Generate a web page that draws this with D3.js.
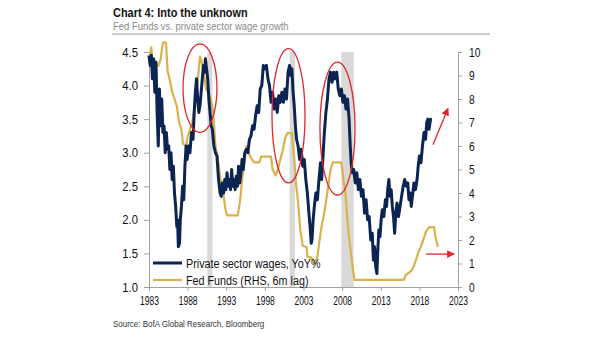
<!DOCTYPE html>
<html>
<head>
<meta charset="utf-8">
<script src="https://cdn.jsdelivr.net/npm/d3@7"></script>
<style>
    html, body { margin: 0; padding: 0; background: #fff; }
    svg { display: block; font-family: "Liberation Sans", Arial, sans-serif; }
</style>
</head>
<body>
<svg id="chart" width="605" height="341"></svg>
<script>
// tick labels
let yearTicks = [1983, 1988, 1993, 1998, 2003, 2008, 2013, 2018, 2023];
let leftTicks = [1.0, 1.5, 2.0, 2.5, 3.0, 3.5, 4.0, 4.5];
let rightTicks = [0, 1, 2, 3, 4, 5, 6, 7, 8, 9, 10];

// Private sector wages, YoY% (left axis) - [year, value]
let wages = [
    [1983.0, 4.45], [1983.15, 4.3], [1983.3, 4.45], [1983.45, 4.1], [1983.6, 4.4], [1983.75, 3.9],
    [1983.9, 4.35], [1984.05, 3.6], [1984.2, 3.1], [1984.35, 3.95], [1984.5, 3.4], [1984.65, 3.8],
    [1984.8, 3.3], [1984.95, 3.4], [1985.1, 3.0], [1985.25, 3.3], [1985.4, 3.05], [1985.55, 3.1],
    [1985.7, 2.75], [1985.85, 3.0], [1986.0, 2.6], [1986.15, 2.8], [1986.3, 2.4], [1986.45, 2.2],
    [1986.6, 1.9], [1986.7, 2.0], [1986.8, 1.6], [1986.95, 1.65], [1987.05, 2.0], [1987.2, 2.2],
    [1987.35, 2.5], [1987.5, 2.3], [1987.65, 2.8], [1987.8, 3.1], [1987.95, 2.9], [1988.1, 3.1],
    [1988.3, 3.0], [1988.5, 3.3], [1988.7, 3.2], [1988.85, 3.6], [1989.0, 3.9], [1989.15, 4.1],
    [1989.3, 3.8], [1989.45, 3.6], [1989.6, 3.7], [1989.75, 3.9], [1989.9, 4.1], [1990.05, 4.3],
    [1990.2, 4.2], [1990.3, 4.4], [1990.45, 4.25], [1990.6, 4.1], [1990.75, 3.8], [1990.9, 3.6],
    [1991.05, 3.4], [1991.2, 3.35], [1991.4, 3.1], [1991.6, 3.0], [1991.8, 2.95], [1992.0, 2.6],
    [1992.2, 2.4], [1992.35, 2.35], [1992.5, 2.55], [1992.65, 2.4], [1992.8, 2.6], [1992.95, 2.45],
    [1993.1, 2.7], [1993.25, 2.5], [1993.4, 2.6], [1993.55, 2.45], [1993.7, 2.75], [1993.85, 2.5],
    [1994.0, 2.6], [1994.15, 2.45], [1994.3, 2.65], [1994.45, 2.5], [1994.6, 2.8], [1994.75, 2.55],
    [1994.9, 2.7], [1995.05, 2.9], [1995.2, 2.75], [1995.4, 3.0], [1995.6, 3.05], [1995.8, 3.0],
    [1996.0, 3.2], [1996.2, 3.25], [1996.4, 3.4], [1996.6, 3.35], [1996.8, 3.55], [1997.0, 3.7],
    [1997.2, 3.6], [1997.4, 3.95], [1997.6, 4.0], [1997.8, 4.3], [1998.0, 4.25], [1998.2, 4.3],
    [1998.4, 4.1], [1998.6, 4.0], [1998.8, 3.75], [1999.0, 3.9], [1999.2, 3.65], [1999.4, 3.8],
    [1999.6, 3.6], [1999.8, 3.85], [2000.0, 3.75], [2000.2, 3.9], [2000.4, 3.75], [2000.6, 3.95],
    [2000.8, 3.8], [2001.0, 4.2], [2001.2, 4.3], [2001.35, 4.15], [2001.5, 4.25], [2001.65, 3.9],
    [2001.8, 3.7], [2001.95, 3.4], [2002.1, 3.2], [2002.3, 3.1], [2002.5, 2.9], [2002.7, 3.05],
    [2002.9, 2.8], [2003.1, 2.9], [2003.3, 2.6], [2003.5, 2.4], [2003.7, 2.1], [2003.85, 1.9],
    [2004.0, 1.65], [2004.1, 1.7], [2004.25, 2.0], [2004.4, 2.2], [2004.6, 2.4], [2004.8, 2.3],
    [2005.0, 2.6], [2005.2, 2.85], [2005.35, 2.6], [2005.5, 2.9], [2005.7, 3.3], [2005.9, 3.6],
    [2006.1, 3.8], [2006.3, 4.1], [2006.5, 4.2], [2006.7, 4.05], [2006.9, 4.2], [2007.1, 4.1],
    [2007.3, 4.2], [2007.5, 3.95], [2007.7, 3.85], [2007.9, 3.95], [2008.1, 3.75], [2008.3, 3.85],
    [2008.5, 3.65], [2008.7, 3.8], [2008.9, 3.5], [2009.05, 3.1], [2009.2, 2.8], [2009.35, 2.7],
    [2009.5, 2.75], [2009.7, 2.55], [2009.9, 2.7], [2010.1, 2.45], [2010.3, 2.6], [2010.5, 2.35],
    [2010.7, 2.45], [2010.9, 2.1], [2011.1, 2.3], [2011.3, 2.0], [2011.5, 2.05], [2011.7, 1.7],
    [2011.9, 1.8], [2012.05, 1.4], [2012.2, 1.6], [2012.35, 1.3], [2012.5, 1.2], [2012.6, 1.5],
    [2012.75, 1.85], [2012.9, 1.75], [2013.05, 2.0], [2013.2, 2.15], [2013.4, 2.05], [2013.6, 2.3],
    [2013.75, 2.2], [2013.9, 2.45], [2014.05, 2.6], [2014.2, 2.35], [2014.35, 2.45], [2014.5, 2.2],
    [2014.65, 2.05], [2014.8, 1.8], [2014.95, 2.1], [2015.1, 2.25], [2015.3, 2.05], [2015.5, 2.2],
    [2015.7, 2.35], [2015.9, 2.5], [2016.1, 2.6], [2016.3, 2.5], [2016.5, 2.55], [2016.65, 2.3],
    [2016.8, 2.4], [2016.95, 2.2], [2017.1, 2.35], [2017.3, 2.55], [2017.5, 2.45], [2017.7, 2.6],
    [2017.85, 2.8], [2018.0, 2.95], [2018.2, 2.85], [2018.4, 3.1], [2018.6, 3.3], [2018.8, 3.2],
    [2018.95, 3.45], [2019.1, 3.5], [2019.25, 3.35], [2019.45, 3.5], [2019.6, 3.5]
];

// Fed Funds, 6m lag (right axis) - [year, value]
let fedFunds = [
    [1983.0, 9.6], [1983.3, 10.2], [1983.5, 9.4], [1983.8, 9.5], [1984.2, 9.4], [1984.5, 9.7],
    [1984.8, 10.4], [1985.2, 10.4], [1985.4, 9.2], [1985.7, 8.8], [1986.0, 8.3], [1986.3, 8.0],
    [1986.6, 7.7], [1986.9, 7.0], [1987.2, 6.7], [1987.4, 6.1], [1987.8, 6.0], [1988.0, 6.4],
    [1988.3, 6.7], [1988.6, 7.0], [1988.9, 7.6], [1989.2, 8.4], [1989.4, 9.1], [1989.6, 9.8],
    [1989.8, 9.6], [1990.1, 9.1], [1990.4, 8.4], [1990.7, 8.3], [1991.0, 8.0], [1991.3, 7.5],
    [1991.6, 6.0], [1991.9, 5.5], [1992.2, 4.7], [1992.6, 4.0], [1992.9, 3.3], [1993.1, 3.05],
    [1994.5, 3.05], [1994.8, 3.7], [1995.0, 4.4], [1995.3, 5.2], [1995.6, 6.0], [1995.9, 5.7],
    [1996.2, 5.5], [1996.6, 5.3], [1997.3, 5.3], [1997.5, 5.55], [1998.8, 5.55], [1999.0, 5.0],
    [1999.4, 4.75], [1999.7, 5.0], [1999.9, 5.3], [2000.3, 5.8], [2000.6, 6.3], [2000.9, 6.55],
    [2001.5, 6.55], [2001.8, 5.5], [2002.0, 4.5], [2002.3, 3.6], [2002.6, 2.4], [2002.9, 1.75],
    [2003.4, 1.7], [2003.5, 1.3], [2004.0, 1.25], [2004.5, 1.0], [2004.8, 1.3], [2005.0, 1.8],
    [2005.3, 2.5], [2005.6, 3.0], [2005.9, 3.6], [2006.2, 4.3], [2006.5, 5.0], [2006.8, 5.3],
    [2007.9, 5.3], [2008.2, 4.5], [2008.4, 4.1], [2008.7, 2.8], [2008.9, 2.1], [2009.3, 1.0],
    [2009.6, 0.3], [2016.0, 0.3], [2016.2, 0.5], [2017.0, 0.7], [2017.3, 0.9], [2017.6, 1.2],
    [2017.9, 1.5], [2018.3, 1.8], [2018.6, 2.1], [2018.9, 2.4], [2019.3, 2.55], [2019.9, 2.55],
    [2020.1, 2.1], [2020.4, 1.7]
];

// recessions (grey bands) - [start, end]
let recessions = [[1990.55, 1991.2], [2001.2, 2001.9], [2007.9, 2009.5]];

// red ellipses: [centre year, centre value (left axis), half-width years, half-height value]
let circles = [[1989.6, 3.96, 2.2, 0.66], [2001.06, 3.55, 2.14, 1.0], [2007.4, 3.36, 2.27, 0.99]];

// red arrows on left-axis units: [x1, y1, x2, y2]
let arrows = [[2019.76, 3.12, 2021.7, 3.66], [2018.86, 1.49, 2022.5, 1.49]];

let navy = "#0c2452";
let gold = "#d8b24c";
let red = "#e0262a";
let axisGrey = "#a0a0a0";

// squeeze text horizontally to mimic the narrow font of the original
function squeeze(sel, k) {
    sel.each(function () {
        let w = this.getComputedTextLength();
        d3.select(this).attr("textLength", w * k).attr("lengthAdjust", "spacingAndGlyphs");
    });
}

let SVG = d3.select("#chart");
let margin = {top: 52, left: 149, right: 147, bottom: 54};
let width = 605 - margin.left - margin.right;
let height = 341 - margin.top - margin.bottom;

let x = d3.scaleLinear().domain([1983, 2023]).range([0, width]);
let yL = d3.scaleLinear().domain([1, 4.5]).range([height, 0]);
let yR = d3.scaleLinear().domain([0, 10]).range([height, 0]);

// Title block
SVG.append("text")
    .attr("x", 113).attr("y", 17)
    .style("font-weight", "bold")
    .style("font-size", "13px")
    .style("fill", "#111")
    .text("Chart 4: Into the unknown")
    .call(squeeze, 0.84);

SVG.append("text")
    .attr("x", 113).attr("y", 30)
    .style("font-size", "11px")
    .style("fill", "#8a8a8a")
    .text("Fed Funds vs. private sector wage growth")
    .call(squeeze, 0.86);

SVG.append("line")
    .attr("x1", 112).attr("x2", 490)
    .attr("y1", 34).attr("y2", 34)
    .style("stroke", "#9a9a9a")
    .style("stroke-width", 1);

SVG.append("text")
    .attr("x", 113).attr("y", 327)
    .style("font-size", "9.5px")
    .style("fill", "#333")
    .text("Source: BofA Global Research, Bloomberg")
    .call(squeeze, 0.84);

let plot = SVG.append("g")
    .attr("transform", "translate(" + margin.left + "," + margin.top + ")");

// Recession bands
plot.selectAll("rect.rec")
    .data(recessions)
    .enter()
    .append("rect")
    .attr("class", "rec")
    .attr("x", d => x(d[0]))
    .attr("width", d => x(d[1]) - x(d[0]))
    .attr("y", 0)
    .attr("height", height)
    .style("fill", "#d9d9d9");

// Axes
let styleAxis = (g, k) => {
    g.select(".domain").style("stroke", axisGrey);
    g.selectAll(".tick line").style("stroke", axisGrey);
    g.selectAll(".tick text")
        .style("fill", "#111")
        .style("font-size", "12.5px")
        .style("font-family", "\"Liberation Sans\", Arial, sans-serif")
        .call(squeeze, k);
};

plot.append("g")
    .attr("transform", "translate(0," + height + ")")
    .call(d3.axisBottom(x).tickValues(yearTicks).tickFormat(d3.format("d")).tickSize(4).tickSizeOuter(0).tickPadding(5))
    .call(styleAxis, 0.68);

plot.append("g")
    .call(d3.axisLeft(yL).tickValues(leftTicks).tickFormat(d3.format(".1f")).tickSize(5).tickSizeOuter(0).tickPadding(6))
    .call(styleAxis, 0.9);

plot.append("g")
    .attr("transform", "translate(" + width + ",0)")
    .call(d3.axisRight(yR).tickValues(rightTicks).tickSize(4).tickSizeOuter(0).tickPadding(7))
    .call(styleAxis, 0.82);

// Series
let fedLine = d3.line().x(d => x(d[0])).y(d => yR(d[1]));
let wageLine = d3.line().x(d => x(d[0])).y(d => yL(d[1]));

plot.append("path")
    .datum(fedFunds)
    .attr("d", fedLine)
    .style("fill", "none")
    .style("stroke", gold)
    .style("stroke-width", 2.2)
    .style("stroke-linejoin", "round");

plot.append("path")
    .datum(wages)
    .attr("d", wageLine)
    .style("fill", "none")
    .style("stroke", navy)
    .style("stroke-width", 3)
    .style("stroke-linejoin", "round");

// Red ellipses
plot.selectAll("ellipse")
    .data(circles)
    .enter()
    .append("ellipse")
    .attr("cx", d => x(d[0]))
    .attr("cy", d => yL(d[1]))
    .attr("rx", d => x(d[0] + d[2]) - x(d[0]))
    .attr("ry", d => yL(d[1] - d[3]) - yL(d[1]))
    .style("fill", "none")
    .style("stroke", red)
    .style("stroke-width", 1.3);

// Red arrows
SVG.append("defs").append("marker")
    .attr("id", "arrowhead")
    .attr("viewBox", "0 0 10 10")
    .attr("refX", 9).attr("refY", 5)
    .attr("markerWidth", 6).attr("markerHeight", 6)
    .attr("orient", "auto")
    .append("path")
    .attr("d", "M0,0L10,5L0,10z")
    .style("fill", red);

plot.selectAll("line.arrow")
    .data(arrows)
    .enter()
    .append("line")
    .attr("class", "arrow")
    .attr("x1", d => x(d[0])).attr("y1", d => yL(d[1]))
    .attr("x2", d => x(d[2])).attr("y2", d => yL(d[3]))
    .style("stroke", red)
    .style("stroke-width", 1.3)
    .attr("marker-end", "url(#arrowhead)");

// Legend
let legend = plot.append("g");
let legendItems = [["Private sector wages, YoY%", navy, 3], ["Fed Funds (RHS, 6m lag)", gold, 2.2]];
legendItems.forEach((item, i) => {
    let ly = height - 24 + i * 17;
    legend.append("line")
        .attr("x1", 4).attr("x2", 33)
        .attr("y1", ly).attr("y2", ly)
        .style("stroke", item[1])
        .style("stroke-width", item[2]);
    legend.append("text")
        .attr("x", 37).attr("y", ly + 4.5)
        .style("font-size", "12.5px")
        .style("fill", "#111")
        .text(item[0])
        .call(squeeze, 0.86);
});
</script>
</body>
</html>
